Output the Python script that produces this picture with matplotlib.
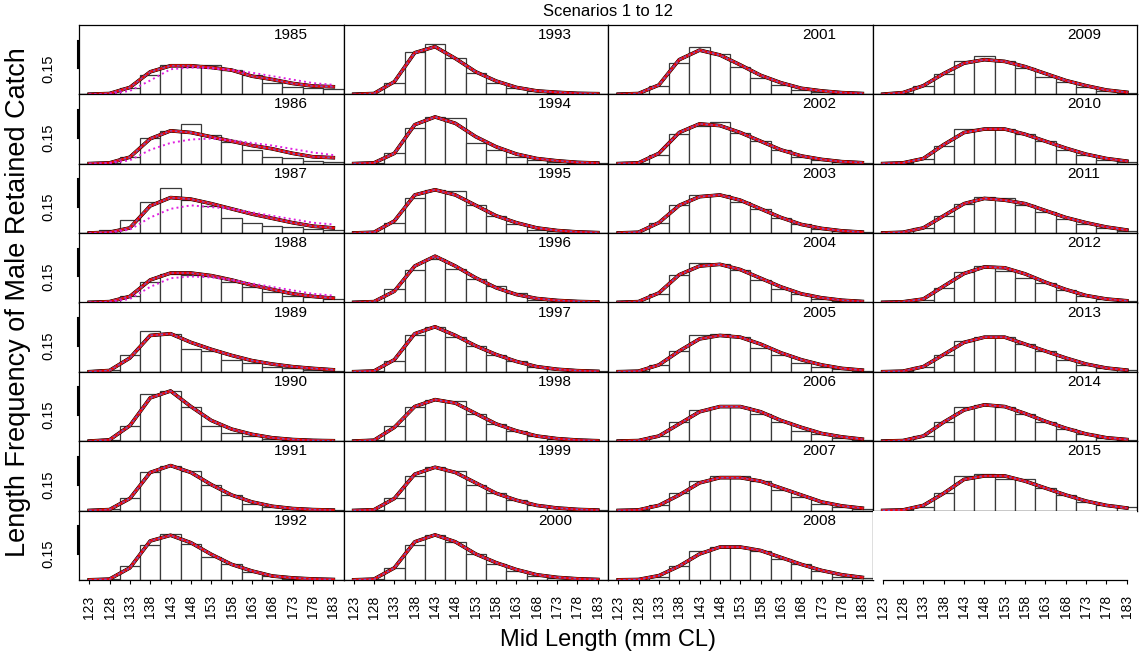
import matplotlib
matplotlib.use('Agg')
import matplotlib.pyplot as plt

plt.rcParams['font.family'] = ['Liberation Sans', 'DejaVu Sans']

# length bins (mid points, mm CL)
mid_lengths = [123, 128, 133, 138, 143, 148, 153, 158, 163, 168, 173, 178, 183]
years = list(range(1985, 2016))

# observed proportions, one row per year
observed = [
    [0, 0.002, 0.035, 0.11, 0.17, 0.16, 0.17, 0.14, 0.11, 0.067, 0.044, 0.035, 0.029],   # 1985
    [0, 0.003, 0.04, 0.15, 0.19, 0.227, 0.163, 0.125, 0.08, 0.04, 0.035, 0.015, 0.008],  # 1986
    [0, 0.02, 0.077, 0.177, 0.263, 0.19, 0.157, 0.085, 0.058, 0.042, 0.033, 0.023, 0.017],
    [0, 0.005, 0.04, 0.12, 0.165, 0.16, 0.15, 0.12, 0.09, 0.06, 0.04, 0.03, 0.02],
    [0, 0.01, 0.1, 0.235, 0.22, 0.13, 0.12, 0.07, 0.05, 0.03, 0.02, 0.01, 0.005],
    [0, 0.01, 0.09, 0.27, 0.29, 0.2, 0.09, 0.05, 0.03, 0.015, 0.01, 0.005, 0.002],
    [0, 0.01, 0.07, 0.22, 0.26, 0.23, 0.15, 0.09, 0.04, 0.02, 0.01, 0.005, 0.002],
    [0, 0.003, 0.08, 0.2, 0.263, 0.21, 0.133, 0.09, 0.048, 0.023, 0.008, 0.005, 0.002],
    [0, 0.003, 0.063, 0.246, 0.288, 0.207, 0.125, 0.063, 0.035, 0.02, 0.01, 0.008, 0.005],  # 1993
    [0, 0.003, 0.06, 0.206, 0.271, 0.263, 0.12, 0.08, 0.04, 0.02, 0.01, 0.005, 0.003],
    [0, 0.003, 0.06, 0.2, 0.25, 0.24, 0.16, 0.1, 0.05, 0.02, 0.01, 0.005, 0.002],
    [0, 0.003, 0.079, 0.19, 0.252, 0.194, 0.133, 0.094, 0.052, 0.017, 0.017, 0.008, 0.003],
    [0, 0.003, 0.06, 0.213, 0.257, 0.2, 0.15, 0.1, 0.06, 0.03, 0.015, 0.006, 0.003],
    [0, 0.005, 0.09, 0.2, 0.235, 0.23, 0.16, 0.1, 0.06, 0.03, 0.015, 0.005, 0.002],
    [0, 0.003, 0.07, 0.2, 0.25, 0.23, 0.15, 0.1, 0.06, 0.03, 0.02, 0.01, 0.003],
    [0, 0.003, 0.07, 0.2, 0.26, 0.22, 0.15, 0.09, 0.05, 0.025, 0.01, 0.005, 0.002],
    [0, 0.003, 0.048, 0.179, 0.275, 0.232, 0.16, 0.092, 0.054, 0.025, 0.015, 0.01, 0.005],  # 2001
    [0, 0.003, 0.05, 0.17, 0.22, 0.24, 0.18, 0.13, 0.08, 0.04, 0.02, 0.01, 0.005],
    [0, 0.003, 0.06, 0.16, 0.22, 0.22, 0.18, 0.14, 0.09, 0.05, 0.025, 0.01, 0.005],
    [0, 0.003, 0.05, 0.16, 0.23, 0.22, 0.19, 0.13, 0.08, 0.05, 0.02, 0.01, 0.005],
    [0, 0.003, 0.04, 0.12, 0.21, 0.22, 0.2, 0.14, 0.1, 0.05, 0.03, 0.015, 0.005],
    [0, 0.002, 0.03, 0.11, 0.18, 0.2, 0.2, 0.16, 0.11, 0.06, 0.04, 0.02, 0.01],
    [0, 0.002, 0.03, 0.1, 0.17, 0.2, 0.2, 0.17, 0.12, 0.08, 0.04, 0.02, 0.01],
    [0, 0.002, 0.02, 0.08, 0.17, 0.19, 0.19, 0.17, 0.12, 0.09, 0.05, 0.02, 0.01],
    [0, 0.01, 0.05, 0.12, 0.19, 0.22, 0.19, 0.15, 0.1, 0.07, 0.04, 0.02, 0.01],  # 2009
    [0, 0.003, 0.03, 0.1, 0.2, 0.2, 0.2, 0.17, 0.13, 0.08, 0.05, 0.02, 0.01],
    [0, 0.003, 0.03, 0.1, 0.17, 0.21, 0.2, 0.16, 0.12, 0.08, 0.05, 0.03, 0.01],
    [0, 0.003, 0.013, 0.085, 0.177, 0.21, 0.18, 0.142, 0.113, 0.071, 0.04, 0.02, 0.01],
    [0, 0.003, 0.03, 0.1, 0.18, 0.2, 0.2, 0.16, 0.12, 0.07, 0.04, 0.02, 0.01],
    [0, 0.003, 0.03, 0.11, 0.2, 0.21, 0.2, 0.16, 0.11, 0.07, 0.04, 0.02, 0.01],
    [0, 0.003, 0.02, 0.1, 0.2, 0.21, 0.18, 0.18, 0.13, 0.09, 0.05, 0.03, 0.02],
]

# model fit shared by most scenarios
fitted = [
    [0.001, 0.005, 0.04, 0.13, 0.165, 0.165, 0.155, 0.14, 0.105, 0.086, 0.063, 0.048, 0.044],  # 1985
    [0.001, 0.005, 0.038, 0.144, 0.19, 0.18, 0.155, 0.13, 0.105, 0.086, 0.06, 0.04, 0.035],
    [0.001, 0.005, 0.03, 0.157, 0.205, 0.196, 0.17, 0.14, 0.11, 0.085, 0.06, 0.04, 0.03],
    [0.001, 0.005, 0.035, 0.13, 0.17, 0.17, 0.155, 0.13, 0.1, 0.075, 0.05, 0.035, 0.025],
    [0.001, 0.008, 0.08, 0.21, 0.22, 0.17, 0.13, 0.095, 0.065, 0.045, 0.03, 0.02, 0.012],
    [0.001, 0.008, 0.09, 0.25, 0.29, 0.2, 0.12, 0.07, 0.04, 0.02, 0.01, 0.005, 0.003],
    [0.001, 0.006, 0.07, 0.22, 0.26, 0.22, 0.15, 0.09, 0.05, 0.025, 0.012, 0.006, 0.003],
    [0.001, 0.005, 0.07, 0.225, 0.258, 0.215, 0.148, 0.09, 0.052, 0.023, 0.012, 0.006, 0.003],
    [0.001, 0.005, 0.073, 0.24, 0.275, 0.207, 0.13, 0.077, 0.04, 0.02, 0.012, 0.006, 0.004],  # 1993
    [0.001, 0.005, 0.06, 0.225, 0.27, 0.233, 0.156, 0.098, 0.056, 0.03, 0.017, 0.008, 0.004],
    [0.001, 0.005, 0.07, 0.22, 0.25, 0.22, 0.16, 0.1, 0.06, 0.03, 0.015, 0.007, 0.003],
    [0.001, 0.005, 0.065, 0.21, 0.267, 0.21, 0.142, 0.085, 0.046, 0.023, 0.012, 0.006, 0.003],
    [0.001, 0.005, 0.07, 0.22, 0.26, 0.21, 0.15, 0.1, 0.06, 0.03, 0.015, 0.007, 0.003],
    [0.001, 0.006, 0.08, 0.2, 0.24, 0.22, 0.16, 0.1, 0.06, 0.03, 0.015, 0.007, 0.003],
    [0.001, 0.005, 0.07, 0.21, 0.25, 0.22, 0.16, 0.1, 0.06, 0.03, 0.015, 0.007, 0.003],
    [0.001, 0.005, 0.07, 0.22, 0.26, 0.22, 0.15, 0.1, 0.06, 0.03, 0.015, 0.007, 0.003],
    [0.001, 0.005, 0.054, 0.2, 0.255, 0.227, 0.17, 0.11, 0.067, 0.035, 0.02, 0.01, 0.005],  # 2001
    [0.001, 0.005, 0.06, 0.18, 0.23, 0.22, 0.18, 0.13, 0.08, 0.045, 0.025, 0.012, 0.006],
    [0.001, 0.005, 0.06, 0.16, 0.21, 0.22, 0.19, 0.14, 0.09, 0.05, 0.027, 0.013, 0.006],
    [0.001, 0.005, 0.055, 0.16, 0.21, 0.22, 0.19, 0.14, 0.09, 0.05, 0.027, 0.013, 0.006],
    [0.001, 0.004, 0.04, 0.12, 0.19, 0.21, 0.2, 0.16, 0.11, 0.07, 0.04, 0.02, 0.01],
    [0.001, 0.004, 0.03, 0.1, 0.17, 0.2, 0.2, 0.17, 0.12, 0.08, 0.045, 0.025, 0.012],
    [0.001, 0.004, 0.03, 0.09, 0.16, 0.19, 0.19, 0.17, 0.13, 0.09, 0.05, 0.027, 0.014],
    [0.001, 0.003, 0.025, 0.08, 0.15, 0.19, 0.19, 0.17, 0.13, 0.09, 0.055, 0.03, 0.015],
    [0.001, 0.01, 0.05, 0.12, 0.18, 0.2, 0.19, 0.16, 0.12, 0.08, 0.05, 0.025, 0.012],  # 2009
    [0.001, 0.005, 0.03, 0.11, 0.18, 0.2, 0.2, 0.17, 0.13, 0.09, 0.055, 0.03, 0.015],
    [0.001, 0.005, 0.03, 0.1, 0.17, 0.2, 0.19, 0.17, 0.13, 0.09, 0.06, 0.035, 0.018],
    [0.001, 0.004, 0.02, 0.094, 0.167, 0.205, 0.2, 0.165, 0.117, 0.075, 0.04, 0.02, 0.01],
    [0.001, 0.004, 0.03, 0.1, 0.17, 0.2, 0.2, 0.16, 0.12, 0.08, 0.045, 0.022, 0.01],
    [0.001, 0.004, 0.03, 0.11, 0.18, 0.21, 0.2, 0.16, 0.115, 0.075, 0.042, 0.02, 0.01],
    [0.001, 0.004, 0.03, 0.1, 0.18, 0.2, 0.2, 0.17, 0.13, 0.09, 0.055, 0.03, 0.015],
]

# the one scenario that departs from the rest in the early years
alt_years = [1985, 1986, 1987, 1988]
fitted_alt = [
    [0, 0.003, 0.02, 0.08, 0.145, 0.155, 0.15, 0.14, 0.125, 0.105, 0.085, 0.065, 0.055],
    [0, 0.003, 0.02, 0.08, 0.12, 0.14, 0.145, 0.135, 0.12, 0.105, 0.085, 0.065, 0.05],
    [0, 0.003, 0.02, 0.09, 0.14, 0.16, 0.15, 0.14, 0.12, 0.1, 0.08, 0.06, 0.05],
    [0, 0.003, 0.02, 0.09, 0.14, 0.15, 0.145, 0.13, 0.11, 0.09, 0.07, 0.05, 0.04],
]
alt_scenario = 11

# scenario line styles (colour, width, style), drawn in this order
scen_colors = ['black', '#8B0000', '#00A000', 'orange', 'gold', 'cyan',
               'gray', '#A0522D', 'blue', 'red', '#6A5ACD', '#E020E0']
scen_widths = [2.6, 2.2, 1.0, 1.4, 1.0, 1.0, 1.0, 1.0, 1.2, 1.5, 0.9, 1.4]
scen_styles = ['-', '-', '-', '-', '-', '-', '-', '-', '-', '-', (0, (2, 2)), ':']

W, H = 1140, 653
LEFT, RIGHT, TOP, BOTTOM = 79, 1137, 25, 580
NCOL, NROW = 4, 8
pw = (RIGHT - LEFT) / NCOL
ph = (BOTTOM - TOP) / NROW
YMAX = 0.4

fig = plt.figure(figsize=(W / 100, H / 100), dpi=100)
fig.patch.set_facecolor('white')


def panel_axes(col, row):
    return fig.add_axes([(LEFT + col * pw) / W, 1 - (TOP + (row + 1) * ph) / H, pw / W, ph / H])


for i, yr in enumerate(years):
    col, row = divmod(i, NROW)
    ax = panel_axes(col, row)
    ax.bar(mid_lengths, observed[i], width=5, color='white', edgecolor='#3a3a3a',
           linewidth=0.9, zorder=1)
    for s in range(12):
        vals = fitted[i]
        if s == alt_scenario and yr in alt_years:
            vals = fitted_alt[alt_years.index(yr)]
        elif s == alt_scenario:
            continue
        ax.plot(mid_lengths, vals, color=scen_colors[s], lw=scen_widths[s],
                ls=scen_styles[s], zorder=2 + s)
    ax.set_xlim(120.5, 185.5)
    ax.set_ylim(0, YMAX)
    ax.text(172.5, YMAX * 0.855, str(yr), ha='center', va='center', fontsize=11)
    for sp in ax.spines.values():
        sp.set_linewidth(0.9)
    ax.set_yticks([0.15])
    if col == 0:
        ax.set_yticklabels(['0.15'])
        ax.tick_params(axis='y', length=0, pad=17, labelsize=10.5, labelrotation=90)
        for lab in ax.get_yticklabels():
            lab.set_va('center')
        ax.plot([120.3, 120.3], [0.15, 0.31], color='black', lw=1.5,
                clip_on=False, zorder=30)
    else:
        ax.tick_params(axis='y', length=0, labelleft=False)
    ax.set_xticks(mid_lengths)
    if row == NROW - 1:
        ax.set_xticklabels([str(m) for m in mid_lengths])
        ax.tick_params(axis='x', length=3, pad=8, labelsize=10, labelrotation=90)
    else:
        ax.tick_params(axis='x', length=0, labelbottom=False)

# empty last panel: only its length axis
ax = panel_axes(NCOL - 1, NROW - 1)
ax.set_xlim(120.5, 185.5)
ax.set_ylim(0, YMAX)
for side in ['top', 'right', 'left']:
    ax.spines[side].set_visible(False)
ax.spines['bottom'].set_bounds(mid_lengths[0], mid_lengths[-1])
ax.spines['bottom'].set_linewidth(0.9)
ax.set_yticks([])
ax.set_xticks(mid_lengths)
ax.set_xticklabels([str(m) for m in mid_lengths])
ax.tick_params(axis='x', length=3, pad=8, labelsize=10, labelrotation=90)

fig.text((LEFT + RIGHT) / 2 / W, 1 - 12 / H, 'Scenarios 1 to 12', ha='center', va='center', fontsize=12)
fig.text((LEFT + RIGHT) / 2 / W, 1 - 640 / H, 'Mid Length (mm CL)', ha='center', va='center', fontsize=17)
fig.text(18 / W, 1 - ((TOP + BOTTOM) / 2) / H, 'Length Frequency of Male Retained Catch',
         ha='center', va='center', rotation=90, fontsize=19.5)

fig.savefig('out.png', dpi=100, facecolor='white')
